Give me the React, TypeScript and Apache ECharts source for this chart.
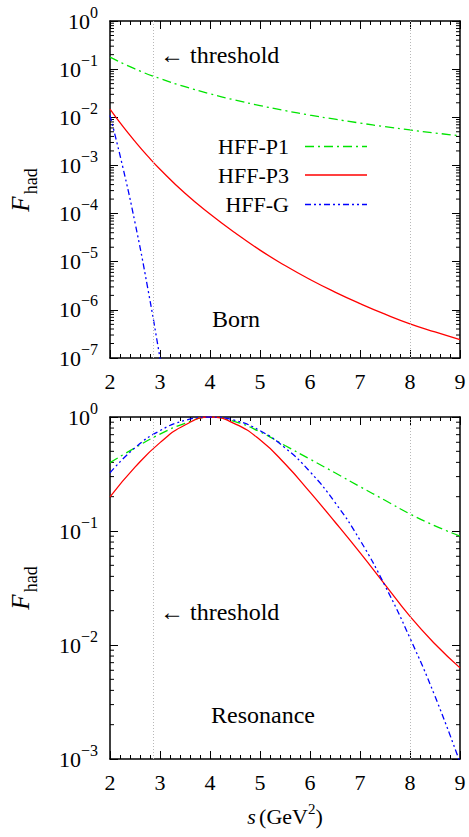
import React, { useEffect, useRef } from 'react';
import * as echarts from 'echarts';

const FONT = 'Liberation Serif';

// ---------- data ----------
const sHalf = [2, 2.5, 3, 3.5, 4, 4.5, 5, 5.5, 6, 6.5, 7, 7.5, 8, 8.5, 9];

// Born panel
const bornP1 = [0.178, 0.101, 0.0638, 0.0432, 0.0308, 0.0228, 0.0175, 0.01374, 0.01109, 0.00912, 0.00759, 0.00638, 0.00545, 0.00472, 0.00412];
const bornP3S = [2, 2.25, 2.5, 2.75, 3, 3.5, 4, 4.5, 5, 5.5, 6, 6.5, 7, 7.5, 8, 8.5, 9];
const bornP3 = [1.48e-2, 6.61e-3, 3.16e-3, 1.58e-3, 8.32e-4, 2.63e-4, 9.77e-5, 3.98e-5, 1.74e-5, 8.32e-6, 4.27e-6, 2.34e-6, 1.35e-6, 8.13e-7, 5.13e-7, 3.47e-7, 2.40e-7];
const bornGS = [2, 2.25, 2.5, 2.75, 3.0, 3.1];
const bornG = [1.1e-2, 9.8e-4, 6.5e-5, 3.0e-6, 1.0e-7, 2.3e-8];

// Resonance panel
const resP1 = [0.398, 0.537, 0.708, 0.881, 1, 0.912, 0.741, 0.562, 0.427, 0.324, 0.245, 0.186, 0.141, 0.111, 0.0902];
const resP3 = [0.1995, 0.363, 0.596, 0.851, 1, 0.871, 0.631, 0.389, 0.219, 0.120, 0.0646, 0.0339, 0.0178, 0.0102, 0.0063];
const resG = [0.324, 0.537, 0.759, 0.933, 1, 0.933, 0.759, 0.537, 0.331, 0.178, 0.0832, 0.0331, 0.01148, 0.00355, 0.000933];

const thresholdLines = [2.87, 8];
const seriesNames = ['HFF-P1', 'HFF-P3', 'HFF-G'];
const seriesColors = ['#00e400', '#ff0000', '#0000ff'];
const dashP1 = [9, 4, 2, 4];
const dashG = [6, 3, 2, 3, 2, 3];

// ---------- layout ----------
const X0 = 110;
const W = 350;
const grids = [
  { left: X0, top: 21, width: W, height: 337 },
  { left: X0, top: 417, width: W, height: 342 },
];
const yMins = [1e-7, 1e-3];

function zip(xs: number[], ys: number[]) {
  return xs.map((x, i) => [x, ys[i]]);
}

function minorTickValues(min: number, max: number) {
  const out: number[][] = [];
  for (let e = Math.round(Math.log10(min)); e < Math.round(Math.log10(max)); e++) {
    for (let k = 2; k <= 9; k++) out.push([2, k * Math.pow(10, e)]);
  }
  return out;
}

const supRich = {
  b: { fontSize: 22, fontFamily: FONT, color: '#000', verticalAlign: 'bottom', lineHeight: 22 },
  s: { fontSize: 16, fontFamily: FONT, color: '#000', verticalAlign: 'bottom', lineHeight: 16, padding: [0, 0, 12, 0] },
};

function yLabel(v: number) {
  const e = Math.round(Math.log10(v));
  const t = e < 0 ? '\u2212' + Math.abs(e) : String(e);
  return '{b|10}{s|' + t + '}';
}

function makeAxes(g: number) {
  const tick = { inside: true, length: 8, lineStyle: { color: '#000', width: 1 } };
  const line = { show: true, onZero: false, lineStyle: { color: '#000', width: 1.5 } };
  const xBase = {
    gridIndex: g, type: 'value', min: 2, max: 9, interval: 1,
    axisLine: line, axisTick: tick,
    minorTick: { show: true, splitNumber: 5, length: 4, lineStyle: { color: '#000', width: 1 } },
    splitLine: { show: false },
  };
  const yBase = {
    gridIndex: g, type: 'log', logBase: 10, min: yMins[g], max: 1,
    splitNumber: g === 0 ? 7 : 3,
    axisLine: line, axisTick: tick, splitLine: { show: false },
  };
  return {
    x: [
      { ...xBase, position: 'bottom', axisLabel: { fontSize: 22, fontFamily: FONT, color: '#000', margin: 12 } },
      { ...xBase, position: 'top', axisLabel: { show: false } },
    ],
    y: [
      { ...yBase, position: 'left', axisLabel: { formatter: yLabel, rich: supRich, margin: 12 } },
      { ...yBase, position: 'right', axisLabel: { show: false } },
    ],
  };
}

function lineSeries(name: string, data: number[][], color: string, dash: any, xi: number, yi: number, extra: any = {}) {
  return {
    type: 'line', name, data, xAxisIndex: xi, yAxisIndex: yi,
    showSymbol: false, symbol: 'none', smooth: 0.5, clip: true, silent: true,
    lineStyle: { color, width: 1.3, type: dash },
    ...extra,
  };
}

function panelSeries(g: number, p1: number[][], p3: number[][], gg: number[][]) {
  const xi = g * 2;
  const yi = g * 2;
  const mark = {
    markLine: {
      silent: true, symbol: ['none', 'none'], label: { show: false },
      lineStyle: { color: '#b8b8b8', width: 1, type: [1, 2] },
      data: thresholdLines.map((v) => ({ xAxis: v })),
    },
  };
  const minor = {
    type: 'custom', xAxisIndex: xi, yAxisIndex: yi, silent: true, clip: false,
    data: minorTickValues(yMins[g], 1),
    renderItem: (params: any, api: any) => {
      const v = api.value(1);
      const a = api.coord([2, v]);
      const b = api.coord([9, v]);
      const st = { stroke: '#000', lineWidth: 1 };
      return {
        type: 'group',
        children: [
          { type: 'line', shape: { x1: a[0], y1: a[1], x2: a[0] + 4, y2: a[1] }, style: st },
          { type: 'line', shape: { x1: b[0] - 4, y1: b[1], x2: b[0], y2: b[1] }, style: st },
        ],
      };
    },
  };
  return [
    lineSeries(seriesNames[0], p1, seriesColors[0], dashP1, xi, yi, mark),
    lineSeries(seriesNames[1], p3, seriesColors[1], 'solid', xi, yi),
    lineSeries(seriesNames[2], gg, seriesColors[2], dashG, xi, yi),
    minor,
  ];
}

const a0 = makeAxes(0);
const a1 = makeAxes(1);

function txt(x: number, y: number, text: string, size = 24, align = 'left') {
  return {
    type: 'text', x, y, silent: true,
    style: { text, fontSize: size, fontFamily: FONT, fill: '#000', align, verticalAlign: 'middle' },
  };
}

function fName(y: number) {
  return {
    type: 'text', x: 24, y, rotation: Math.PI / 2, silent: true,
    style: {
      text: '{f|F}{s|had}', align: 'center', verticalAlign: 'middle',
      rich: {
        f: { fontSize: 25, fontStyle: 'italic', fontFamily: FONT, fill: '#000', verticalAlign: 'bottom', padding: [0, 2, 7, 0] },
        s: { fontSize: 18, fontFamily: FONT, fill: '#000', verticalAlign: 'bottom' },
      },
    },
  };
}

const legendRows = [146.5, 175, 204.5];
const legendGraphics: any[] = [];
seriesNames.forEach((n, i) => {
  legendGraphics.push(txt(289, legendRows[i], n, 22, 'right'));
  legendGraphics.push({
    type: 'line', silent: true,
    shape: { x1: 305, y1: legendRows[i], x2: 367, y2: legendRows[i] },
    style: { stroke: seriesColors[i], lineWidth: 1.3, lineDash: i === 0 ? dashP1 : i === 2 ? dashG : null },
  });
});

const option: any = {
  animation: false,
  backgroundColor: '#fff',
  grid: grids,
  xAxis: [...a0.x, ...a1.x],
  yAxis: [...a0.y, ...a1.y],
  series: [
    ...panelSeries(0, zip(sHalf, bornP1), zip(bornP3S, bornP3), zip(bornGS, bornG)),
    ...panelSeries(1, zip(sHalf, resP1), zip(sHalf, resP3), zip(sHalf, resG)),
  ],
  graphic: [
    txt(160, 55, '\u2190 threshold'),
    txt(212, 319, 'Born'),
    txt(160, 612, '\u2190 threshold'),
    txt(211, 715, 'Resonance'),
    fName(190),
    fName(588),
    {
      type: 'text', x: 285, y: 814, silent: true,
      style: {
        text: '{i|s} {n|(GeV}{p|2}{n|)}', align: 'center', verticalAlign: 'middle',
        rich: {
          i: { fontSize: 22, fontStyle: 'italic', fontFamily: FONT, fill: '#000', verticalAlign: 'bottom' },
          n: { fontSize: 22, fontFamily: FONT, fill: '#000', verticalAlign: 'bottom' },
          p: { fontSize: 15, fontFamily: FONT, fill: '#000', verticalAlign: 'bottom', padding: [0, 0, 11, 0] },
        },
      },
    },
    ...legendGraphics,
  ],
};

export default function App() {
  const ref = useRef<HTMLDivElement>(null);
  useEffect(() => {
    const chart = echarts.init(ref.current!, null, { renderer: 'svg' });
    chart.setOption(option);
    return () => chart.dispose();
  }, []);
  return <div ref={ref} style={{ position: 'fixed', left: 0, top: 0, width: 469, height: 837 }} />;
}
